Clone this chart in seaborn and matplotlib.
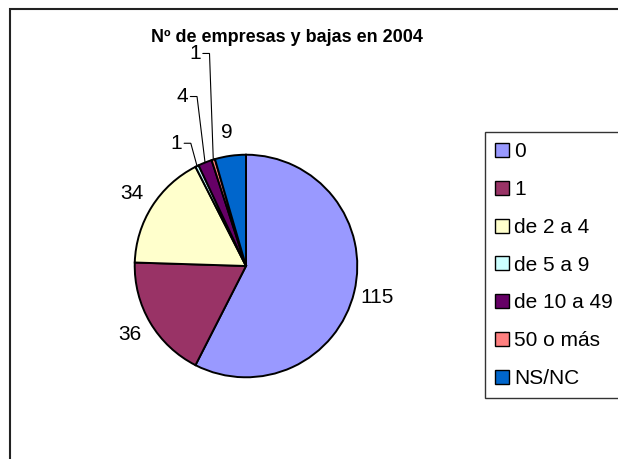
import numpy as np
import matplotlib
matplotlib.use("Agg")
import matplotlib.pyplot as plt
from matplotlib.patches import Patch, Rectangle
import seaborn as sns

# ---- data ----
categories = ["0", "1", "de 2 a 4", "de 5 a 9", "de 10 a 49", "50 o más", "NS/NC"]
values = [115, 36, 34, 1, 4, 1, 9]
title = "Nº de empresas y bajas en 2004"
colors = ["#9999FF", "#993366", "#FFFFCC", "#CCFFFF", "#660066", "#FF8080", "#0066CC"]

sns.set_theme(style="white")
plt.rcParams["font.family"] = ["Liberation Sans", "DejaVu Sans"]

W, H = 618, 459
fig = plt.figure(figsize=(W / 100, H / 100), dpi=100)
fig.patch.set_facecolor("white")

# pie geometry (pixels)
cx, cy, r = 246, 266, 107
lim = 1.3
size = 2 * lim * r
ax = fig.add_axes([(cx - size / 2) / W, (H - cy - size / 2) / H, size / W, size / H])
ax.set_xlim(-lim, lim)
ax.set_ylim(-lim, lim)
ax.set_aspect("equal")
ax.axis("off")

palette = sns.color_palette(colors)
wedges, _ = ax.pie(values, colors=palette, startangle=90, counterclock=False,
                   radius=1, wedgeprops=dict(edgecolor="black", linewidth=1.4))

fs = 15
# label layout for the thin wedges (text position in axes data units)
small_pos = {3: (-0.626, 1.103), 4: (-0.570, 1.523), 5: (-0.458, 1.91)}
for i, w in enumerate(wedges):
    mid = np.deg2rad((w.theta1 + w.theta2) / 2)
    ex, ey = np.cos(mid), np.sin(mid)
    if i in small_pos:
        tx, ty = small_pos[i]
        ax.text(tx, ty, str(values[i]), ha="center", va="center", fontsize=fs,
                color="black", clip_on=False)
        ax.plot([tx + 0.07, tx + 0.13, ex], [ty, ty, ey], color="black",
                lw=0.8, clip_on=False, solid_joinstyle="miter")
    else:
        d = 1.21
        ax.text(d * ex, d * ey, str(values[i]), ha="center", va="center",
                fontsize=fs, color="black", clip_on=False)

fig.text(287 / W, 1 - 37 / H, title, ha="center", va="center",
         fontsize=13, fontweight="bold", color="black")

handles = [Patch(facecolor=c, edgecolor="black", linewidth=1.0) for c in palette]
leg = fig.legend(handles, categories, loc="upper left",
                 bbox_to_anchor=(485 / W, 1 - 132 / H), borderaxespad=0,
                 frameon=True, fancybox=False, edgecolor="black",
                 handlelength=0.65, handleheight=0.65, handletextpad=0.25,
                 labelspacing=0.9, borderpad=0.5, fontsize=fs)
leg.get_frame().set_linewidth(1.0)
for t in leg.get_texts():
    t.set_color("black")

# chart area border (extends beyond the image on right/bottom)
fig.patches.append(Rectangle((10 / W, -0.2), 2.0, 1 - 9 / H + 0.2,
                             transform=fig.transFigure, fill=False,
                             edgecolor="#222222", linewidth=1.5))

fig.savefig("out.png", dpi=100, facecolor="white")
